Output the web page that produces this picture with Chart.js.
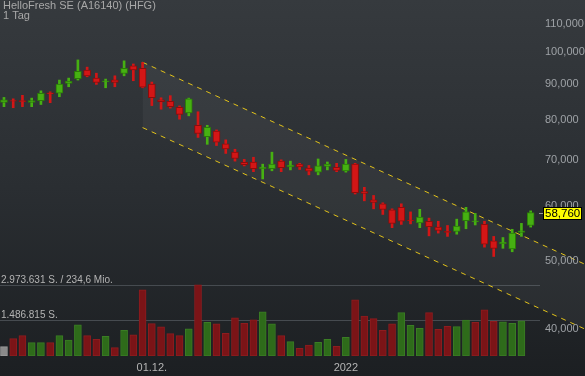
<!DOCTYPE html>
<html>
<head>
<meta charset="utf-8">
<title>HelloFresh SE</title>
<script src="https://cdn.jsdelivr.net/npm/chart.js@4.4.1/dist/chart.umd.min.js"></script>
<style>
  html, body { margin: 0; padding: 0; background: #1e2124; }
  canvas { display: block; }
</style>
</head>
<body>
<canvas id="chart" width="585" height="376"></canvas>
<script>
// daily candles, 08.11.2021 - 31.01.2022
var opens  = [84700, 85200, 85200, 84700, 85200, 87400, 87300, 90200, 91600, 94300,
              91800, 90700, 91300, 93200, 95600, 94800, 90000, 85400, 85000, 83300,
              81800, 78500, 75600, 77000, 73800, 71800, 69400, 69500, 68000, 68000,
              69700, 68400, 69000, 68100, 67200, 68500, 68300, 67500, 69000, 63000,
              61300, 60500, 59300, 59800, 57300, 56800, 57100, 56000, 55200, 55200,
              57200, 57000, 56500, 53500, 53000, 52100, 55000, 56300];
var highs  = [86100, 85700, 86700, 85900, 88000, 87700, 91200, 91800, 97500, 95200,
              93300, 91500, 92500, 97200, 96200, 96700, 90600, 86000, 86600, 83700,
              85900, 82100, 78500, 77300, 74800, 72500, 70100, 70600, 69000, 71800,
              70000, 69700, 69200, 68700, 70200, 69500, 69200, 70100, 69200, 63900,
              62200, 60700, 59500, 60500, 58900, 59400, 57700, 57100, 56300, 57500,
              59800, 58600, 57100, 54300, 54100, 55600, 56700, 59100];
var lows   = [83500, 83200, 83500, 83500, 84100, 84600, 86300, 89200, 91200, 92200,
              89900, 88900, 89200, 92500, 91000, 88900, 83800, 82800, 83100, 80100,
              81000, 75400, 73700, 73400, 71500, 69700, 68600, 67300, 65700, 67500,
              67300, 67700, 67800, 66600, 66600, 67700, 67300, 67200, 62500, 61100,
              59500, 58400, 55900, 56500, 56600, 55900, 54400, 54900, 54300, 54700,
              55700, 56400, 52400, 50800, 52200, 51600, 54300, 56000];
var closes = [85400, 85000, 84900, 85200, 87300, 87100, 90000, 90900, 93900, 92500,
              90500, 91000, 90500, 94800, 94300, 89100, 86000, 84900, 83500, 81400,
              85700, 76400, 78000, 74200, 72600, 70300, 68900, 68000, 68300, 69000,
              68200, 68800, 68400, 67400, 68600, 69000, 67600, 69000, 62800, 62600,
              60800, 59400, 56700, 57100, 57200, 57900, 56100, 55400, 55000, 56200,
              58900, 57200, 52900, 52200, 53300, 54900, 55300, 58760];
// volume (shares), last day not yet published
var volumes = [390000, 725000, 850000, 557000, 557000, 557000, 850000, 670000, 1298000, 850000,
               698000, 825000, 348000, 1076000, 880000, 2764000, 1353000, 1215000, 934000, 850000,
               1131000, 2973631, 1411000, 1340000, 951000, 1592000, 1369000, 1508000, 1843000, 1340000,
               850000, 599000, 322000, 461000, 574000, 698000, 406000, 783000, 2345000, 1663000,
               1562000, 1076000, 1340000, 1814000, 1286000, 1160000, 1814000, 1118000, 1244000, 1227000,
               1495000, 1411000, 1927000, 1453000, 1424000, 1369000, 1466000];

var xTickIdx  = [16, 37];
var xTickText = ['01.12.', '2022'];
var priceTicks = [40000, 50000, 60000, 70000, 80000, 90000, 100000, 110000];
var volMax = 2973631;
var volLabels = ['2.973.631 S. / 234,6 Mio.', '1.486.815 S.'];

// trend channel
var chanUpper = [96740, 49500];
var chanLower = [77900, 39930];
var chanStart = 15;

var xMin = -0.43, xMax = 62.88;
var red = '#d31616', redDark = '#8c0c0c';
var green = '#46b012', greenDark = '#2a7a08';
var font = '"Liberation Sans", Arial, sans-serif';

function candleColor(i) { return closes[i] >= opens[i] ? green : red; }
function candleBorder(i) { return closes[i] >= opens[i] ? greenDark : redDark; }
function volColor(i) {
    if (i == 0) return '#8a8a8a';
    return closes[i] > closes[i - 1] ? '#2e6b1a' : '#7b1417';
}
function volBorder(i) {
    if (i == 0) return '#9a9a9a';
    return closes[i] > closes[i - 1] ? '#3a7d24' : '#8e1c1f';
}

function fmt(v) { return v.toString().replace(/\B(?=(\d{3})+(?!\d))/g, ','); }

var bgPlugin = {
    id: 'bg',
    beforeDraw: function (chart) {
        var ctx = chart.ctx;
        var g = ctx.createLinearGradient(0, 0, 0, chart.height);
        g.addColorStop(0, '#363a3e');
        g.addColorStop(0.5, '#2a2e32');
        g.addColorStop(1, '#1c1f22');
        ctx.save();
        ctx.fillStyle = g;
        ctx.fillRect(0, 0, chart.width, chart.height);
        ctx.restore();
    },
    beforeDatasetsDraw: function (chart) {
        var ctx = chart.ctx;
        var yv = chart.scales.yv;
        ctx.save();
        ctx.strokeStyle = '#464b50';
        ctx.lineWidth = 1;
        ctx.fillStyle = '#b4b4b4';
        ctx.font = '10px ' + font;
        ctx.textBaseline = 'alphabetic';
        [volMax, volMax / 2].forEach(function (v, k) {
            var y = Math.round(yv.getPixelForValue(v)) + 0.5;
            ctx.beginPath();
            ctx.moveTo(0, y);
            ctx.lineTo(540, y);
            ctx.stroke();
            ctx.fillText(volLabels[k], 1, y - 3);
        });
        ctx.restore();
    },
    afterDraw: function (chart) {
        var ctx = chart.ctx;
        var y = chart.scales.y;
        ctx.save();
        // title
        ctx.fillStyle = '#a8a8a8';
        ctx.font = '11px ' + font;
        ctx.textBaseline = 'middle';
        ctx.fillText('HelloFresh SE (A16140) (HFG)', 3, 6);
        ctx.fillText('1 Tag', 3, 16);
        // price axis labels
        ctx.fillStyle = '#9ea2a6';
        priceTicks.forEach(function (v) {
            ctx.fillText(fmt(v), 545, y.getPixelForValue(v));
        });
        // last price marker
        var last = closes[closes.length - 1];
        var py = Math.round(y.getPixelForValue(last));
        ctx.strokeStyle = '#9a9a9a';
        ctx.beginPath();
        ctx.moveTo(539, py + 0.5);
        ctx.lineTo(543, py + 0.5);
        ctx.stroke();
        ctx.fillStyle = '#ffff00';
        ctx.fillRect(543, py - 6, 39, 13);
        ctx.strokeStyle = '#000';
        ctx.strokeRect(543.5, py - 5.5, 38, 12);
        ctx.fillStyle = '#000';
        ctx.font = '11.5px ' + font;
        ctx.fillText(fmt(last), 545, py + 1);
        ctx.restore();
    }
};

var idx = closes.map(function (c, i) { return i; });

var config = {
    type: 'bar',
    data: {
        datasets: [{
            type: 'line',
            data: [{x: chanStart, y: chanUpper[0]}, {x: xMax, y: chanUpper[1]}],
            borderColor: '#e2c21a',
            borderWidth: 1,
            borderDash: [5, 5],
            pointRadius: 0,
            fill: false,
            yAxisID: 'y',
            order: 6
        }, {
            type: 'line',
            data: [{x: chanStart, y: chanLower[0]}, {x: xMax, y: chanLower[1]}],
            borderColor: '#e2c21a',
            borderWidth: 1,
            borderDash: [5, 5],
            pointRadius: 0,
            fill: 0,
            backgroundColor: 'rgba(255,255,255,0.045)',
            yAxisID: 'y',
            order: 6
        }, {
            data: volumes.map(function (v, i) { return {x: i, y: v}; }),
            backgroundColor: volumes.map(function (v, i) { return volColor(i); }),
            borderColor: volumes.map(function (v, i) { return volBorder(i); }),
            borderWidth: 1,
            borderSkipped: false,
            barThickness: 7,
            grouped: false,
            yAxisID: 'yv',
            order: 5
        }, {
            data: idx.map(function (i) { return {x: i, y: [lows[i], highs[i]]}; }),
            backgroundColor: idx.map(candleColor),
            borderWidth: 0,
            barThickness: 2,
            grouped: false,
            yAxisID: 'y',
            order: 2
        }, {
            data: idx.map(function (i) { return {x: i, y: [opens[i], closes[i]]}; }),
            backgroundColor: idx.map(candleColor),
            borderColor: idx.map(candleBorder),
            borderWidth: 1,
            borderSkipped: false,
            barThickness: 7,
            grouped: false,
            yAxisID: 'y',
            order: 1
        }]
    },
    options: {
        responsive: false,
        devicePixelRatio: 1,
        animation: false,
        events: [],
        layout: { padding: 0 },
        plugins: { legend: { display: false }, tooltip: { enabled: false } },
        scales: {
            x: {
                type: 'linear',
                position: 'bottom',
                offset: false,
                min: xMin,
                max: xMax,
                grid: { display: false, drawTicks: false, offset: false },
                border: { display: false },
                ticks: {
                    color: '#b4b4b4',
                    font: { family: font, size: 11 },
                    padding: 5,
                    autoSkip: false,
                    maxRotation: 0,
                    callback: function (v) { return xTickText[xTickIdx.indexOf(v)]; }
                },
                afterBuildTicks: function (axis) {
                    axis.ticks = xTickIdx.map(function (v) { return {value: v}; });
                },
                afterFit: function (axis) { axis.height = 20; }
            },
            y: {
                type: 'logarithmic',
                min: 36520,
                max: 118940,
                bounds: 'data',
                display: false
            },
            yv: {
                type: 'linear',
                min: 0,
                max: volMax / 0.2,
                display: false
            }
        }
    },
    plugins: [bgPlugin]
};

new Chart(document.getElementById('chart'), config);
</script>
</body>
</html>
